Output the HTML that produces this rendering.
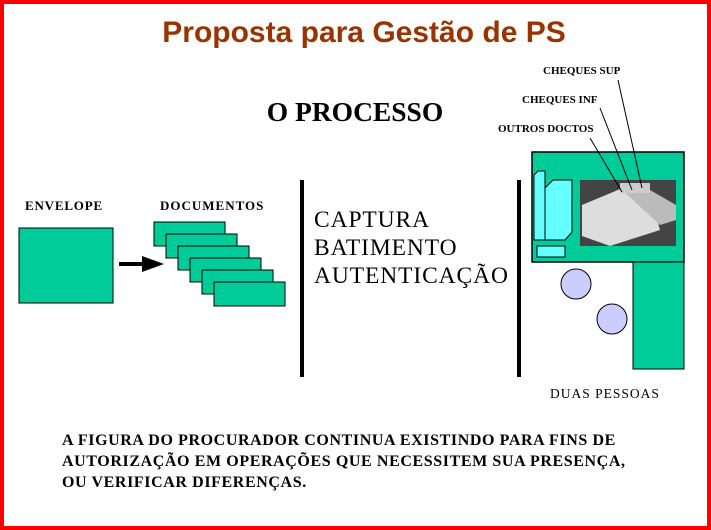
<!DOCTYPE html>
<html><head><meta charset="utf-8"><style>
html,body{margin:0;padding:0;background:#fff}
svg{display:block}
text{font-family:"Liberation Serif",serif}
</style></head><body>
<svg width="711" height="530" xmlns="http://www.w3.org/2000/svg">
<rect x="2" y="2" width="707" height="526" fill="#fff" stroke="#f00" stroke-width="4"/>
<text x="364" y="42" text-anchor="middle" font-weight="bold" font-size="30" fill="#993300" style="font-family:'Liberation Sans',sans-serif">Proposta para Gestão de PS</text>
<text x="355" y="121" text-anchor="middle" font-weight="bold" font-size="27.5">O PROCESSO</text>
<text x="25" y="210" font-size="13" font-weight="bold" letter-spacing="0.8">ENVELOPE</text>
<text x="160" y="210" font-size="13" font-weight="bold" letter-spacing="1">DOCUMENTOS</text>
<rect x="19" y="228" width="94" height="75" fill="#00cc99" stroke="#000"/>
<line x1="119" y1="264" x2="146" y2="264" stroke="#000" stroke-width="4"/>
<polygon points="142,256 164,264 142,272" fill="#000"/>
<g fill="#00cc99" stroke="#000">
<rect x="154" y="222" width="71" height="24"/>
<rect x="166" y="234" width="71" height="24"/>
<rect x="178" y="246" width="71" height="24"/>
<rect x="190" y="258" width="71" height="24"/>
<rect x="202" y="270" width="71" height="24"/>
<rect x="214" y="282" width="71" height="24"/>
</g>
<rect x="300" y="180" width="4" height="197" fill="#000"/>
<rect x="517" y="180" width="4" height="197" fill="#000"/>
<text x="314" y="227" font-size="23.5" letter-spacing="0.9">CAPTURA</text>
<text x="314" y="255" font-size="23.5" letter-spacing="0.9">BATIMENTO</text>
<text x="314" y="283" font-size="23.5" letter-spacing="0.9">AUTENTICAÇÃO</text>
<rect x="532" y="152" width="152" height="110" fill="#00cc99" stroke="#000" stroke-width="1.5"/>
<rect x="633" y="262" width="51" height="107" fill="#00cc99" stroke="#000"/>
<circle cx="576" cy="284" r="15" fill="#ccccff" stroke="#000"/>
<circle cx="612" cy="319" r="15" fill="#ccccff" stroke="#000"/>
<g fill="#66ffff" stroke="#000">
<polygon points="534,175 538,171 545,171 545,240 534,240"/>
<polygon points="545,188 553,180 572,180 572,232 565,240 545,240"/>
<rect x="537" y="246" width="28" height="11"/>
</g>
<rect x="580" y="180" width="96" height="66" fill="#444"/>
<polygon points="582,205 625,187 650,195 660,230 610,246 582,236" fill="#ddd"/>
<polygon points="620,188 650,190 676,205 676,220 660,225" fill="#bbb"/>
<rect x="620" y="183" width="30" height="10" fill="#ccc"/>
<text x="543" y="74" font-size="11" font-weight="bold">CHEQUES SUP</text>
<text x="522" y="103" font-size="11" font-weight="bold">CHEQUES INF</text>
<text x="498" y="132" font-size="11" font-weight="bold">OUTROS DOCTOS</text>
<g stroke="#000" stroke-width="1" fill="none">
<line x1="618" y1="80" x2="642" y2="188"/>
<line x1="600" y1="108" x2="632" y2="190"/>
<line x1="590" y1="138" x2="622" y2="192"/>
</g>
<text x="550" y="398" font-size="13.5" letter-spacing="1">DUAS PESSOAS</text>
<text x="62" y="445" font-weight="bold" font-size="16" letter-spacing="0.6">A FIGURA DO PROCURADOR CONTINUA EXISTINDO PARA FINS DE</text>
<text x="62" y="466" font-weight="bold" font-size="16" letter-spacing="0.6">AUTORIZAÇÃO EM OPERAÇÕES QUE NECESSITEM SUA PRESENÇA,</text>
<text x="62" y="487" font-weight="bold" font-size="16" letter-spacing="0.6">OU VERIFICAR DIFERENÇAS.</text>
</svg>
</body></html>
